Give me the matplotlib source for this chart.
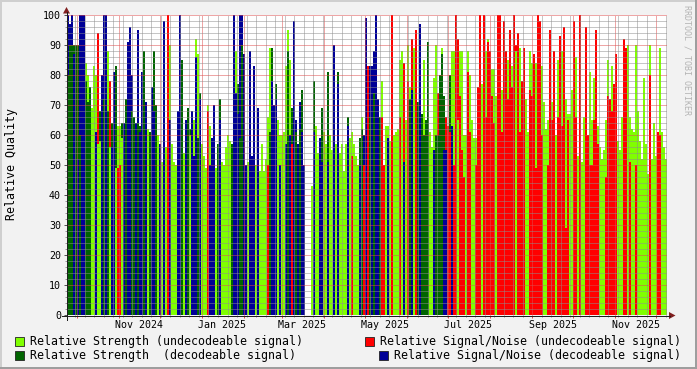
import numpy as np
import matplotlib
matplotlib.use('Agg')
import matplotlib.pyplot as plt
import matplotlib.dates as mdates
from matplotlib.lines import Line2D
from matplotlib.patches import Polygon, Rectangle
from datetime import datetime, timedelta

W, H = 697, 369

# one slot is ~1.47 days; L lime, G dark green, R red, B blue
# front = lower layer (colour seen at the bottom), back = taller layer behind it
front_col = ("GGGBGBGBBG" "GGLLBLLBGB" "GLBBLRRLBG" "BBGGBGBBGB" "LGBBGLBLBL"
             "RBLLLBBGLB" "GLBBBGBLLL" "RBBBLGBLLL" "LLGBBBGGBB" "LBBBLBLLLL"
             "RGBBBLBLLB" "GBRBGBGBBL" "LLLBLLBBLL" "BLLBLBLLLL" "BLRLLLBGRB"
             "RGBGBBGRRL" "BLRLLLRLBL" "RGBLRGBGGG" "GLLBGGGGBB" "RRBRRLRRRL"
             "RRLLRRRLRR" "RRRRLRRRRR" "RRRRRRRRRL" "LRRRRRRRLL" "RRRRLRRRRR"
             "RLLRRLRLLR" "RRRRRRLLLR" "RRRRRLLLRR" "LRLLRLLLLL" "LRLLLRRLLL")
front_val = [80, 90, 90, 87, 90, 52, 60, 48, 100, 78, 71, 76, 57, 57, 61, 57, 58, 80, 72, 88,
             68, 56, 56, 79, 49, 49, 50, 59, 64, 72, 91, 81, 68, 66, 64, 64, 61, 81, 88, 71,
             62, 61, 76, 68, 70, 60, 57, 51, 98, 56,
             100, 65, 53, 51, 50, 68, 100, 84, 54, 65, 69, 60, 68, 53, 86, 59, 72, 57, 53, 49,
             68, 50, 59, 70, 49, 57, 65, 51, 50, 56, 60, 58, 57, 94, 74, 67, 59, 90, 87, 50,
             51, 88, 53, 83, 50, 69, 48, 57, 48, 52,
             50, 61, 78, 61, 72, 65, 50, 51, 61, 57, 88, 60, 57, 98, 61, 57, 62, 61, 50, 0,
             0, 0, 43, 61, 57, 54, 59, 51, 61, 57, 51, 58, 55, 90, 57, 77, 54, 57, 48, 57,
             63, 51, 53, 57, 47, 50, 50, 62, 50, 99,
             83, 66, 71, 74, 100, 72, 66, 66, 50, 63, 59, 58, 100, 60, 61, 62, 66, 88, 51, 65,
             78, 72, 75, 89, 95, 71, 97, 67, 60, 65, 91, 61, 56, 55, 60, 60, 80, 87, 55, 55,
             63, 61, 63, 50, 100, 65, 73, 55, 46, 54,
             81, 61, 65, 59, 50, 76, 100, 77, 81, 66, 91, 88, 73, 64, 73, 100, 77, 61, 69, 88,
             72, 95, 76, 100, 90, 94, 61, 78, 89, 72, 61, 75, 73, 87, 49, 100, 98, 60, 71, 62,
             50, 95, 65, 88, 60, 66, 93, 63, 96, 29,
             65, 52, 58, 79, 66, 53, 100, 51, 66, 61, 60, 50, 50, 65, 63, 57, 56, 52, 55, 46,
             73, 72, 68, 77, 87, 58, 55, 66, 71, 89, 90, 51, 62, 61, 50, 68, 58, 52, 79, 57,
             47, 80, 52, 64, 53, 61, 60, 61, 56, 52]
back_col = ("BBBG-GBB-L" "L-LLLRG-BB" "LRGBGLLG--" "-BB--BG---" "---G------"
            "-LL---BG--" "-G-LLLG---" "LL----G---" "---BLGBB--" "----------"
            "LLGBG-LL-L" "LLG-B-BG--" "---GL--G--" "GL---G----" "GLL-L-GLB-"
            "-BBB---L--" "L-----L-R-" "LLR-----L-" "---LLR-LGR" "-GLL-RLLLL"
            "LL--L---RL" "L-LL--RLR-" "L-L-L-L---" "-LL-L--L--" "L-L--L-L-L"
            "LLLRL----R" "-LLLRL---L" "L-L-----R-" "-L--L-----" "-L----L---")
back_val = [100, 97, 100, 90, 0, 90, 100, 100, 0, 84, 80, 0, 69, 83, 80, 94, 68, 0, 100, 100,
            88, 78, 64, 81, 83, 63, 63, 64, 0, 0, 0, 96, 80, 0, 0, 95, 63, 0, 0, 0,
            0, 0, 0, 88, 0, 0, 0, 0, 0, 0,
            0, 90, 57, 0, 0, 0, 0, 85, 61, 0, 0, 62, 0, 65, 92, 87, 74, 0, 0, 0,
            70, 63, 0, 0, 0, 0, 72, 0, 0, 0, 0, 0, 0, 100, 88, 77, 100, 100, 0, 0,
            0, 0, 0, 0, 0, 0, 0, 0, 0, 0,
            66, 89, 89, 70, 77, 0, 60, 60, 0, 83, 95, 85, 69, 0, 65, 0, 71, 75, 0, 0,
            0, 0, 0, 78, 63, 0, 0, 69, 0, 0, 81, 60, 0, 0, 0, 81, 0, 0, 0, 0,
            66, 59, 61, 0, 53, 0, 59, 66, 60, 0,
            0, 83, 83, 88, 0, 0, 0, 78, 0, 0, 63, 0, 0, 0, 0, 0, 85, 0, 84, 0,
            90, 76, 92, 0, 0, 0, 0, 0, 85, 0, 0, 0, 0, 79, 90, 74, 0, 89, 73, 66,
            0, 80, 88, 88, 0, 92, 88, 88, 60, 60,
            88, 80, 0, 0, 59, 0, 0, 0, 100, 88, 92, 0, 82, 82, 0, 0, 100, 75, 98, 0,
            85, 0, 83, 0, 88, 0, 89, 0, 0, 0, 0, 88, 84, 0, 84, 0, 0, 83, 0, 0,
            65, 0, 71, 0, 0, 85, 0, 88, 0, 72,
            67, 67, 75, 98, 86, 0, 0, 0, 0, 96, 0, 81, 65, 79, 95, 63, 0, 0, 0, 65,
            85, 0, 83, 0, 0, 0, 0, 0, 92, 0, 0, 66, 0, 0, 90, 0, 0, 0, 0, 0,
            0, 90, 0, 0, 0, 0, 89, 0, 0, 0]

start = datetime(2024, 9, 24)
span_days = 441
x_labels = ["Nov 2024", "Jan 2025", "Mar 2025", "May 2025", "Jul 2025", "Sep 2025", "Nov 2025"]
label_months = [(2024, 11), (2025, 1), (2025, 3), (2025, 5), (2025, 7), (2025, 9), (2025, 11)]

legend_left = ["Relative Strength (undecodeable signal)", "Relative Strength  (decodeable signal)"]
legend_right = ["Relative Signal/Noise (undecodeable signal)", "Relative Signal/Noise (decodeable signal)"]

colors = {'L': '#80ff00', 'G': '#006400', 'R': '#ff0000', 'B': '#000096'}
BACK = '#f2f2f2'
MONO = 'DejaVu Sans Mono'

n = len(front_val)
step = span_days / n
x0 = mdates.date2num(start)
xs = x0 + np.arange(n) * step

tall_h, tall_c, low_h, low_c = [], [], [], []
for i in range(n):
    a = (front_val[i], front_col[i])
    b = (back_val[i], back_col[i]) if back_col[i] != '-' else a
    hi, lo = (a, b) if a[0] >= b[0] else (b, a)
    tall_h.append(hi[0]); tall_c.append(colors[hi[1]])
    low_h.append(lo[0]); low_c.append(colors[lo[1]])

fig = plt.figure(figsize=(W / 100, H / 100), dpi=100, facecolor=BACK)
ax = fig.add_axes([67 / W, (H - 315) / H, 600 / W, 300 / H])
ax.set_facecolor('white')

ax.bar(xs, tall_h, width=step, align='edge', color=tall_c, linewidth=0, antialiased=False, zorder=1)
ax.bar(xs, low_h, width=step, align='edge', color=low_c, linewidth=0, antialiased=False, zorder=1.1)

ax.set_xlim(x0, x0 + span_days)
ax.set_ylim(0, 100)
for s in ax.spines.values():
    s.set_visible(False)

ax.set_yticks(range(0, 101, 10))
ax.set_yticks(np.arange(0, 101, 2), minor=True)
ax.xaxis.set_major_locator(mdates.MonthLocator())
ax.xaxis.set_minor_locator(mdates.WeekdayLocator(byweekday=mdates.MO))
ax.set_xticklabels([])

dots = (0, (1, 1))
ax.grid(which='minor', color=(0.56, 0.56, 0.56, 0.75), linestyle=dots, linewidth=0.72, zorder=3)
ax.grid(which='major', color=(0.87, 0.31, 0.31, 0.6), linestyle=dots, linewidth=0.72, zorder=3)
ax.set_axisbelow(False)

ax.tick_params(axis='y', which='major', length=2.2, width=0.72, color='#555555',
               pad=2.2, labelsize=7.2)
ax.tick_params(axis='y', which='minor', length=1.2, width=0.72, color='#999999')
ax.tick_params(axis='x', which='major', length=2.2, width=0.72, color=(0.87, 0.31, 0.31))
ax.tick_params(axis='x', which='minor', length=1.4, width=0.72, color='#999999')
for t in ax.get_yticklabels():
    t.set_fontfamily(MONO)


def fp(px, py):
    return (px / W, 1 - py / H)


def xpix(d):
    return 67 + (mdates.date2num(d) - x0) * 600 / span_days


for lab, (yy, mm) in zip(x_labels, label_months):
    d = datetime(yy, mm, 1) + timedelta(days=15)
    fig.text(*fp(xpix(d), 324.5), lab, family=MONO, fontsize=7.2, ha='center', va='center')

# axes with arrows
axis_c = '#1f1f1f'
arrow_c = '#801f1f'
fig.add_artist(Line2D([62 / W, 670 / W], [1 - 315.5 / H] * 2, color=axis_c, lw=0.72))
fig.add_artist(Line2D([66.5 / W] * 2, [1 - 320 / H, 1 - 12 / H], color=axis_c, lw=0.72))
fig.add_artist(Polygon([fp(669, 312), fp(669, 319), fp(675.5, 315.5)], closed=True,
                       transform=fig.transFigure, color=arrow_c, lw=0))
fig.add_artist(Polygon([fp(63, 13.5), fp(70, 13.5), fp(66.5, 7)], closed=True,
                       transform=fig.transFigure, color=arrow_c, lw=0))

fig.text(*fp(12, 164), "Relative Quality", family=MONO, fontsize=8.4, rotation=90,
         ha='center', va='center')
fig.text(*fp(687.5, 5), "RRDTOOL / TOBI OETIKER", family=MONO, fontsize=6, rotation=-90,
         ha='center', va='top', color='#b4b4b4')

# legend
left_cols = [colors['L'], colors['G']]
right_cols = [colors['R'], colors['B']]
rows_y = [341.5, 355]
for i in range(2):
    y = rows_y[i]
    bx, by = fp(15, y + 4.5)
    fig.add_artist(Rectangle((bx, by), 9 / W, 9 / H, transform=fig.transFigure,
                             facecolor=left_cols[i], edgecolor='#222222', lw=0.6))
    fig.text(*fp(30, y), legend_left[i], family=MONO, fontsize=8.4, ha='left', va='center')
    tx = 681
    t = fig.text(*fp(tx, y), legend_right[i], family=MONO, fontsize=8.4, ha='right', va='center')
    box_x = tx - len(legend_right[i]) * 7.0 - 15
    bx, by = fp(box_x, y + 4.5)
    fig.add_artist(Rectangle((bx, by), 9 / W, 9 / H, transform=fig.transFigure,
                             facecolor=right_cols[i], edgecolor='#222222', lw=0.6))

# 3d frame
shade_a, shade_b = '#cfcfcf', '#9e9e9e'
fig.add_artist(Line2D([0, 1], [1 - 1 / H] * 2, color=shade_a, lw=1.44))
fig.add_artist(Line2D([1 / W] * 2, [0, 1], color=shade_a, lw=1.44))
fig.add_artist(Line2D([0, 1], [1 / H] * 2, color=shade_b, lw=1.44))
fig.add_artist(Line2D([1 - 1 / W] * 2, [0, 1], color=shade_b, lw=1.44))

fig.savefig('out.png', dpi=100, facecolor=BACK)
